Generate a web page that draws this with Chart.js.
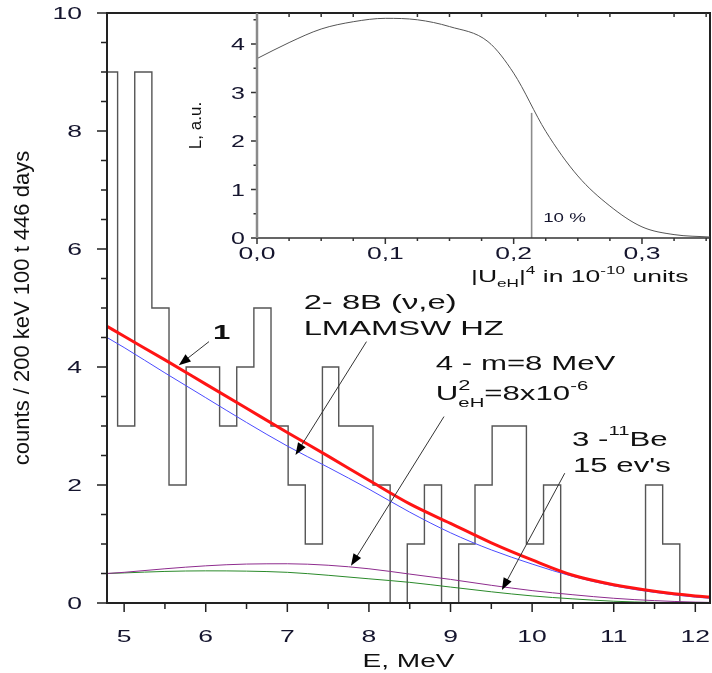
<!DOCTYPE html>
<html>
<head>
<meta charset="utf-8">
<script src="https://cdn.jsdelivr.net/npm/chart.js@4.4.1/dist/chart.umd.min.js"></script>
<style>
body{margin:0;background:#fff}
#wrap{position:relative;width:712px;height:673px}
canvas{position:absolute;left:0;top:0}
</style>
</head>
<body>
<div id="wrap">
<canvas id="main" width="712" height="673"></canvas>
<canvas id="inset" width="712" height="673"></canvas>
</div>
<script>
//histogram: bin edges (MeV) and counts in each bin
const binEdges = [4.71, 4.92, 5.13, 5.34, 5.55, 5.76, 5.96, 6.17, 6.38, 6.59, 6.80, 7.01, 7.22, 7.43, 7.63, 7.84, 8.05, 8.26,
                  8.47, 8.68, 8.89, 9.10, 9.30, 9.51, 9.72, 9.93, 10.14, 10.35, 10.56, 10.77, 10.98, 11.18, 11.39, 11.60, 11.81, 12.02]
const binCounts = [9, 3, 9, 5, 2, 4, 4, 3, 4, 5, 3, 2, 1, 4, 3, 3, 2, 0,
                   1, 2, 0, 1, 2, 3, 3, 1, 2, 0, 0, 0, 0, 0, 2, 1, 0]

//model curves read at these energies
const curveE     = [4.79, 5.0, 5.5, 6.0, 6.5, 7.0, 7.5, 8.0, 8.5, 9.0, 9.5, 10.0, 10.5, 11.0, 11.5, 12.0, 12.18]
const curveSum   = [4.69, 4.52, 4.12, 3.71, 3.30, 2.89, 2.49, 2.08, 1.68, 1.35, 1.02, 0.73, 0.47, 0.31, 0.20, 0.12, 0.10]  // 1
const curveB8    = [4.50, 4.33, 3.90, 3.48, 3.06, 2.66, 2.30, 1.93, 1.54, 1.19, 0.90, 0.66, 0.45, 0.29, 0.18, 0.10, 0.08]  // 2
const curveBe11  = [0.50, 0.51, 0.535, 0.545, 0.54, 0.52, 0.47, 0.41, 0.35, 0.27, 0.19, 0.12, 0.07, 0.03, 0.01, 0.0, 0.0] // 3
const curveHeavy = [0.50, 0.52, 0.58, 0.63, 0.66, 0.665, 0.64, 0.58, 0.49, 0.40, 0.30, 0.21, 0.14, 0.08, 0.04, 0.015, 0.01] // 4

//inset: L vs |U|^4
const insetU = [0, 0.025, 0.05, 0.075, 0.1, 0.125, 0.15, 0.18, 0.2, 0.225, 0.25, 0.275, 0.3, 0.325, 0.353]
const insetL = [3.70, 4.03, 4.31, 4.46, 4.53, 4.50, 4.36, 4.05, 3.40, 2.20, 1.28, 0.66, 0.23, 0.07, 0.02]
const limitU = 0.214
const limitL = 2.58

//tick labels
const mainXLabels = [5, 6, 7, 8, 9, 10, 11, 12]
const mainYLabels = [0, 2, 4, 6, 8, 10]
const insetXVals = [0, 0.1, 0.2, 0.3]
const insetXLabels = ['0,0', '0,1', '0,2', '0,3']
const insetYLabels = [0, 1, 2, 3, 4]

const FONT = "'Liberation Sans', Arial, sans-serif"
const SX = 1.56        // the figure text is wide
const TICK_COLOR = '#15152e'
const INK = '#111'

//draw text stretched in x, returns the width used
function sText(ctx, str, x, y, size, align, color, weight) {
    ctx.save()
    ctx.font = `${weight || 'normal'} ${size}px ${FONT}`
    const w = ctx.measureText(str).width * SX
    const x0 = align === 'center' ? x - w / 2 : align === 'right' ? x - w : x
    ctx.translate(x0, y)
    ctx.scale(SX, 1)
    ctx.fillStyle = color
    ctx.textAlign = 'left'
    ctx.textBaseline = 'alphabetic'
    ctx.fillText(str, 0, 0)
    ctx.restore()
    return w
}

//text made of pieces, with sub/superscripts
function runs(ctx, parts, x, y, color) {
    let cx = x
    for (const p of parts) {
        if (p.stack) {
            let w = 0
            for (const s of p.stack) w = Math.max(w, sText(ctx, s.t, cx, y + s.dy, s.size, 'left', color))
            cx += w
        } else {
            cx += sText(ctx, p.t, cx, y + (p.dy || 0), p.size, 'left', color, p.weight)
        }
    }
    return cx - x
}

function arrow(ctx, x1, y1, x2, y2) {
    const ang = Math.atan2(y2 - y1, x2 - x1)
    const hl = 12, hw = 4.5
    ctx.save()
    ctx.strokeStyle = '#333'
    ctx.lineWidth = 1
    ctx.beginPath()
    ctx.moveTo(x1, y1)
    ctx.lineTo(x2 - Math.cos(ang) * hl * 0.8, y2 - Math.sin(ang) * hl * 0.8)
    ctx.stroke()
    ctx.fillStyle = '#000'
    ctx.beginPath()
    ctx.moveTo(x2, y2)
    ctx.lineTo(x2 - Math.cos(ang) * hl - Math.sin(ang) * hw, y2 - Math.sin(ang) * hl + Math.cos(ang) * hw)
    ctx.lineTo(x2 - Math.cos(ang) * hl + Math.sin(ang) * hw, y2 - Math.sin(ang) * hl - Math.cos(ang) * hw)
    ctx.closePath()
    ctx.fill()
    ctx.restore()
}

const near = (a, b) => Math.abs(a - b) < 1e-6

//frame, ticks, labels and notes of the big plot
const mainDecor = {
    id: 'mainDecor',
    afterDraw(chart) {
        const {ctx, chartArea: a, scales: {x, y}} = chart
        const P = (vx, vy) => [x.getPixelForValue(vx), y.getPixelForValue(vy)]
        ctx.save()
        ctx.strokeStyle = '#222'
        ctx.lineWidth = 2
        ctx.strokeRect(a.left, a.top, a.right - a.left, a.bottom - a.top)

        ctx.lineWidth = 1.5
        ctx.beginPath()
        for (const t of y.ticks) {
            const py = y.getPixelForValue(t.value)
            const len = mainYLabels.some(v => near(v, t.value)) ? 10 : 6
            ctx.moveTo(a.left - len, py)
            ctx.lineTo(a.left, py)
        }
        for (const t of x.ticks) {
            const px = x.getPixelForValue(t.value)
            const len = mainXLabels.some(v => near(v, t.value)) ? 9 : 6
            ctx.moveTo(px, a.bottom)
            ctx.lineTo(px, a.bottom + len)
        }
        ctx.stroke()

        for (const v of mainYLabels) sText(ctx, String(v), a.left - 25, y.getPixelForValue(v) + 6, 17, 'right', TICK_COLOR)
        for (const v of mainXLabels) sText(ctx, String(v), x.getPixelForValue(v), a.bottom + 39, 17, 'center', TICK_COLOR)
        sText(ctx, 'E, MeV', (a.left + a.right) / 2, a.bottom + 64, 18, 'center', INK)

        ctx.save()
        ctx.translate(23, (a.top + a.bottom) / 2)
        ctx.rotate(-Math.PI / 2)
        ctx.font = `22px ${FONT}`
        ctx.fillStyle = INK
        ctx.textAlign = 'center'
        ctx.textBaseline = 'middle'
        ctx.fillText('counts / 200 keV 100 t 446 days', 0, 0)
        ctx.restore()

        //notes
        let p = P(6.09, 4.47)
        sText(ctx, '1', p[0], p[1], 20, 'left', INK, 'bold')
        arrow(ctx, ...P(6.04, 4.43), ...P(5.67, 4.03))

        p = P(7.20, 4.99)
        sText(ctx, '2- 8B (\u03bd,e)', p[0], p[1], 21, 'left', INK)
        p = P(7.20, 4.55)
        sText(ctx, 'LMAMSW HZ', p[0], p[1], 21, 'left', INK)
        arrow(ctx, ...P(7.97, 4.43), ...P(7.10, 2.51))

        p = P(8.82, 3.95)
        sText(ctx, '4 - m=8 MeV', p[0], p[1], 20, 'left', INK)
        p = P(8.82, 3.44)
        runs(ctx, [
            {t: 'U', size: 20},
            {stack: [{t: '2', size: 14, dy: -10}, {t: 'eH', size: 13, dy: 7}]},
            {t: '=8x10', size: 20},
            {t: '-6', size: 13, dy: -10}
        ], p[0], p[1], INK)
        arrow(ctx, ...P(8.92, 3.16), ...P(7.78, 0.63))

        p = P(10.49, 2.66)
        runs(ctx, [
            {t: '3 -', size: 20},
            {t: '11', size: 13, dy: -11},
            {t: 'Be', size: 20}
        ], p[0], p[1], INK)
        p = P(10.50, 2.22)
        sText(ctx, "15 ev's", p[0], p[1], 20, 'left', INK)
        arrow(ctx, ...P(10.40, 2.20), ...P(9.63, 0.22))
        ctx.restore()
    }
}

//axes, ticks and labels of the inset
const insetDecor = {
    id: 'insetDecor',
    afterDraw(chart) {
        const {ctx, chartArea: a, scales: {x, y}} = chart
        ctx.save()
        ctx.strokeStyle = '#333'
        ctx.lineWidth = 1.5
        ctx.beginPath()
        ctx.moveTo(a.left, a.bottom)
        ctx.lineTo(a.right, a.bottom)
        for (const t of x.ticks) {
            const px = x.getPixelForValue(t.value)
            const major = insetXVals.some(v => near(v, t.value))
            ctx.moveTo(px, a.bottom)
            ctx.lineTo(px, a.bottom + (major ? 6 : 3))
            if (!major) {
                ctx.moveTo(px, a.top)
                ctx.lineTo(px, a.top + 4)
            }
        }
        for (const t of y.ticks) {
            const py = y.getPixelForValue(t.value)
            const major = insetYLabels.some(v => near(v, t.value))
            ctx.moveTo(a.left - (major ? 6 : 3.5), py)
            ctx.lineTo(a.left, py)
        }
        ctx.stroke()

        ctx.strokeStyle = '#8a8a8a'
        ctx.lineWidth = 2.5
        ctx.beginPath()
        ctx.moveTo(a.left, a.top)
        ctx.lineTo(a.left, a.bottom)
        ctx.stroke()

        insetXVals.forEach((v, i) => sText(ctx, insetXLabels[i], x.getPixelForValue(v), a.bottom + 21, 17, 'center', TICK_COLOR))
        for (const v of insetYLabels) sText(ctx, String(v), a.left - 12, y.getPixelForValue(v) + 6, 16, 'right', TICK_COLOR)

        runs(ctx, [
            {t: '|U', size: 17},
            {t: 'eH', size: 11, dy: 5},
            {t: '|', size: 17},
            {t: '4', size: 11, dy: -8},
            {t: ' in 10', size: 17},
            {t: '-10', size: 11, dy: -8},
            {t: ' units', size: 17}
        ], a.left + 214, a.bottom + 43.5, INK)

        ctx.save()
        ctx.translate(a.left - 61, (a.top + a.bottom) / 2)
        ctx.rotate(-Math.PI / 2)
        ctx.font = `17px ${FONT}`
        ctx.fillStyle = INK
        ctx.textAlign = 'center'
        ctx.textBaseline = 'middle'
        ctx.fillText('L, a.u.', 0, 0)
        ctx.restore()

        sText(ctx, '10 %', x.getPixelForValue(0.223), y.getPixelForValue(0.32), 12, 'left', TICK_COLOR)
        ctx.restore()
    }
}

function xy(xs, ys) {
    return xs.map((v, i) => ({x: v, y: ys[i]}))
}

function hiddenAxis(min, max, step, horiz) {
    return {
        type: 'linear', min: min, max: max,
        ticks: {display: false, stepSize: step, includeBounds: false},
        grid: {display: false},
        border: {display: false},
        afterFit: (s) => { if (horiz) s.height = 0; else s.width = 0 }
    }
}

function curve(data, color, width, order) {
    return {data: data, borderColor: color, borderWidth: width, pointRadius: 0,
            cubicInterpolationMode: 'monotone', fill: false, order: order}
}

//histogram as a stepped line, each count held over its bin
const histPoints = binCounts.map((c, i) => ({x: binEdges[i], y: c}))
histPoints.push({x: binEdges[binEdges.length - 1], y: 0})

new Chart(document.getElementById('main'), {
    type: 'line',
    data: {
        datasets: [
            curve(xy(curveE, curveSum), '#ff1414', 3, 0),
            curve(xy(curveE, curveB8), '#4b4bff', 1, 1),
            curve(xy(curveE, curveHeavy), '#8e2c8e', 1, 2),
            curve(xy(curveE, curveBe11), '#2a8a2a', 1, 3),
            {data: histPoints, stepped: 'before', borderColor: '#555', borderWidth: 1.4, pointRadius: 0, fill: false, order: 4}
        ]
    },
    options: {
        responsive: false,
        animation: false,
        events: [],
        layout: {padding: {left: 107, top: 13, right: 2, bottom: 70}},
        plugins: {legend: {display: false}, tooltip: {enabled: false}},
        scales: {
            x: hiddenAxis(4.79, 12.18, 0.5, true),
            y: hiddenAxis(0, 10, 0.5, false)
        }
    },
    plugins: [mainDecor]
})

new Chart(document.getElementById('inset'), {
    type: 'line',
    data: {
        datasets: [
            curve(xy(insetU, insetL), '#555', 1, 0),
            {data: [{x: limitU, y: 0}, {x: limitU, y: limitL}], borderColor: '#8c8c8c', borderWidth: 1.6, pointRadius: 0, order: 1}
        ]
    },
    options: {
        responsive: false,
        animation: false,
        events: [],
        layout: {padding: {left: 257, top: 13, right: 2, bottom: 435}},
        plugins: {legend: {display: false}, tooltip: {enabled: false}},
        scales: {
            x: hiddenAxis(0, 0.353, 0.025, true),
            y: hiddenAxis(0, 4.64, 0.5, false)
        }
    },
    plugins: [insetDecor]
})
</script>
</body>
</html>
